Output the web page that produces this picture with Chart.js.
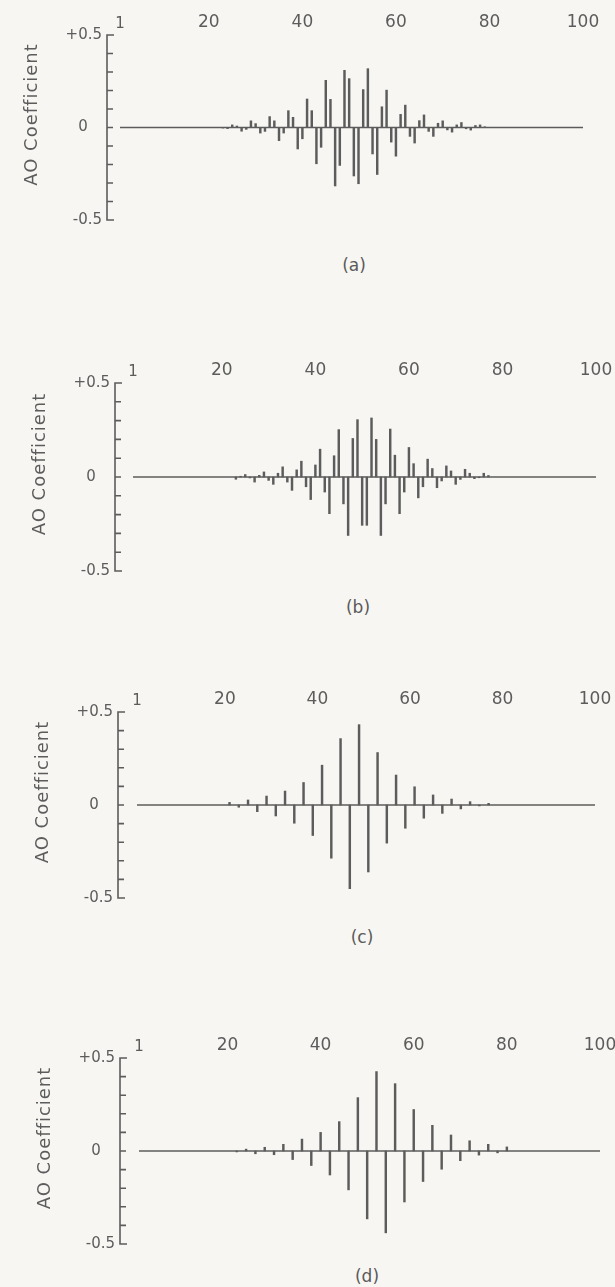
<!DOCTYPE html>
<html>
<head>
<meta charset="utf-8">
<title>AO Coefficient</title>
<script src="https://cdn.jsdelivr.net/npm/chart.js@4.4.1/dist/chart.umd.min.js"></script>
<style>
  html, body { margin: 0; padding: 0; background: #f7f6f3; }
  body { width: 615px; height: 1287px; position: relative; overflow: hidden;
         font-family: "DejaVu Sans", sans-serif; color: #5a5a5a; }
  .panel { position: absolute; left: 0; }
  .caption { position: absolute; font-size: 17px; transform: translate(-50%, -50%); white-space: nowrap; }
</style>
</head>
<body>
<div class="panel" id="wrapA"><canvas id="chartA"></canvas></div>
<div class="panel" id="wrapB"><canvas id="chartB"></canvas></div>
<div class="panel" id="wrapC"><canvas id="chartC"></canvas></div>
<div class="panel" id="wrapD"><canvas id="chartD"></canvas></div>
<div class="caption" id="capA">(a)</div>
<div class="caption" id="capB">(b)</div>
<div class="caption" id="capC">(c)</div>
<div class="caption" id="capD">(d)</div>

<script>
// axis ticks and labels
const xTickValues = [1, 20, 40, 60, 80, 100];
const yTickValues = [-0.5, 0, 0.5];
const yTickLabels = ['-0.5', '0\u2008\u2007', '+0.5'];
const yMinorTicks = [-0.4, -0.3, -0.2, -0.1, 0, 0.1, 0.2, 0.3, 0.4];
const axisLabel = 'AO Coefficient';

// (a)
const idxA = [23, 24, 25, 26, 27, 28, 29, 30, 31, 32, 33, 34, 35, 36, 37, 38, 39, 40, 41, 42,
              43, 44, 45, 46, 47, 48, 49, 50, 51, 52, 53, 54, 55, 56, 57, 58, 59, 60, 61, 62,
              63, 64, 65, 66, 67, 68, 69, 70, 71, 72, 73, 74, 75, 76, 77, 78, 79];
const coefA = [-0.003, -0.006, 0.014, 0.008, -0.020, -0.010, 0.036, 0.021, -0.030, -0.021,
               0.059, 0.036, -0.071, -0.030, 0.091, 0.055, -0.116, -0.061, 0.154, 0.091,
               -0.196, -0.107, 0.255, 0.152, -0.316, -0.205, 0.309, 0.264, -0.262, -0.304,
               0.205, 0.318, -0.143, -0.254, 0.112, 0.202, -0.079, -0.155, 0.071, 0.121,
               -0.048, -0.084, 0.037, 0.068, -0.021, -0.048, 0.023, 0.036, -0.013, -0.025,
               0.014, 0.027, -0.007, -0.014, 0.011, 0.014, 0.004];

// (b)
const idxB = [23, 24, 25, 26, 27, 28, 29, 30, 31, 32, 33, 34, 35, 36, 37, 38, 39, 40, 41, 42,
              43, 44, 45, 46, 47, 48, 49, 50, 51, 52, 53, 54, 55, 56, 57, 58, 59, 60, 61, 62,
              63, 64, 65, 66, 67, 68, 69, 70, 71, 72, 73, 74, 75, 76, 77];
const coefB = [-0.012, 0.004, 0.013, -0.005, -0.027, 0.009, 0.027, -0.018, -0.039, 0.020,
               0.054, -0.027, -0.071, 0.038, 0.084, -0.052, -0.120, 0.064, 0.148, -0.080,
               -0.195, 0.113, 0.252, -0.143, -0.311, 0.205, 0.305, -0.257, -0.257, 0.314,
               0.200, -0.311, -0.143, 0.255, 0.116, -0.195, -0.080, 0.157, 0.071, -0.111,
               -0.052, 0.095, 0.045, -0.057, -0.021, 0.059, 0.032, -0.039, -0.013, 0.041,
               0.020, -0.009, -0.004, 0.020, 0.008];

// (c)
const idxC = [21, 23, 25, 27, 29, 31, 33, 35, 37, 39, 41, 43, 45, 47, 49,
              51, 53, 55, 57, 59, 61, 63, 65, 67, 69, 71, 73, 75, 77];
const coefC = [0.014, -0.012, 0.027, -0.036, 0.048, -0.059, 0.075, -0.098, 0.121, -0.164,
               0.214, -0.286, 0.357, -0.450, 0.432, -0.360, 0.282, -0.205, 0.161, -0.125,
               0.098, -0.071, 0.054, -0.045, 0.032, -0.021, 0.018, -0.005, 0.009];

// (d)
const idxD = [22, 24, 26, 28, 30, 32, 34, 36, 38, 40, 42, 44, 46, 48, 50,
              52, 54, 56, 58, 60, 62, 64, 66, 68, 70, 72, 74, 76, 78, 80];
const coefD = [-0.005, 0.010, -0.015, 0.020, -0.020, 0.036, -0.046, 0.064, -0.078, 0.100,
               -0.129, 0.158, -0.209, 0.287, -0.365, 0.427, -0.440, 0.362, -0.274, 0.223,
               -0.164, 0.138, -0.098, 0.086, -0.052, 0.055, -0.022, 0.036, -0.010, 0.022];

const INK = '#5c5c5c';
const FONT = '"DejaVu Sans", sans-serif';
const PAGE_W = 615;

const panels = [
  { id: 'A', idx: idxA, coef: coefA, top: 0,    plotTop: 35,   plotBottom: 220,  axisX: 107, x1: 120, x100: 583, capX: 354, capY: 265 },
  { id: 'B', idx: idxB, coef: coefB, top: 340,  plotTop: 383,  plotBottom: 571,  axisX: 115, x1: 133, x100: 596, capX: 358, capY: 607 },
  { id: 'C', idx: idxC, coef: coefC, top: 670,  plotTop: 712,  plotBottom: 898,  axisX: 118, x1: 137, x100: 595, capX: 362, capY: 937 },
  { id: 'D', idx: idxD, coef: coefD, top: 1015, plotTop: 1058, plotBottom: 1244, axisX: 120, x1: 139, x100: 600, capX: 367, capY: 1276 }
];

// y axis with inward ticks, corner caps and the rotated label
const coefAxis = {
  id: 'coefAxis',
  afterDraw(chart) {
    const { ctx, chartArea } = chart;
    const y = chart.scales.y;
    const left = chartArea.left;
    const top = y.getPixelForValue(0.5);
    const bottom = y.getPixelForValue(-0.5);
    ctx.save();
    ctx.strokeStyle = INK;
    ctx.lineWidth = 1.6;
    ctx.beginPath();
    ctx.moveTo(left + 7, top);
    ctx.lineTo(left, top);
    ctx.lineTo(left, bottom);
    ctx.lineTo(left + 7, bottom);
    yMinorTicks.forEach((v) => {
      const py = y.getPixelForValue(v);
      ctx.moveTo(left, py);
      ctx.lineTo(left + 6, py);
    });
    ctx.stroke();

    ctx.translate(left - 75, y.getPixelForValue(0) - 13);
    ctx.rotate(-Math.PI / 2);
    ctx.font = '18px ' + FONT;
    ctx.letterSpacing = '1px';
    ctx.fillStyle = INK;
    ctx.textAlign = 'center';
    ctx.textBaseline = 'middle';
    ctx.fillText(axisLabel, 0, 0);
    ctx.restore();
  }
};

function buildPanel(p) {
  const wrap = document.getElementById('wrap' + p.id);
  const canvas = document.getElementById('chart' + p.id);
  const padBottom = 8;
  const height = p.plotBottom - p.top + padBottom;
  wrap.style.top = p.top + 'px';
  canvas.width = PAGE_W;
  canvas.height = height;
  canvas.style.width = PAGE_W + 'px';
  canvas.style.height = height + 'px';

  const cap = document.getElementById('cap' + p.id);
  cap.style.left = p.capX + 'px';
  cap.style.top = p.capY + 'px';

  // index 1 sits a little right of the y axis
  const unit = (p.x100 - p.x1) / 99;
  const xMin = 1 - (p.x1 - p.axisX) / unit;

  new Chart(canvas, {
    type: 'bar',
    data: {
      datasets: [
        {
          type: 'line',
          data: [{ x: 1, y: 0 }, { x: 100, y: 0 }],
          borderColor: INK,
          borderWidth: 1.5,
          pointRadius: 0,
          order: 2
        },
        {
          type: 'bar',
          data: p.idx.map((n, i) => ({ x: n, y: p.coef[i] })),
          backgroundColor: INK,
          borderWidth: 0,
          barThickness: 1.8,
          order: 1
        }
      ]
    },
    options: {
      responsive: false,
      animation: false,
      events: [],
      layout: { padding: { left: 0, right: PAGE_W - p.x100, top: 0, bottom: padBottom } },
      plugins: { legend: { display: false }, tooltip: { enabled: false } },
      scales: {
        x: {
          type: 'linear',
          position: 'top',
          min: xMin,
          max: 100,
          offset: false,
          grid: { display: false, drawTicks: false },
          border: { display: false },
          afterBuildTicks: (s) => { s.ticks = xTickValues.map((v) => ({ value: v })); },
          afterFit: (s) => { s.height = p.plotTop - p.top; s.paddingLeft = 0; s.paddingRight = 0; },
          ticks: {
            autoSkip: false,
            maxRotation: 0,
            padding: 2,
            color: INK,
            font: (c) => ({ family: FONT, size: c.tick && c.tick.value === 1 ? 15 : 17 }),
            callback: (v) => String(v)
          }
        },
        y: {
          min: -0.5,
          max: 0.5,
          grid: { display: false, drawTicks: false },
          border: { display: false },
          afterBuildTicks: (s) => { s.ticks = yTickValues.map((v) => ({ value: v })); },
          afterFit: (s) => { s.width = p.axisX; s.paddingTop = 0; s.paddingBottom = 0; },
          ticks: {
            padding: 5,
            color: INK,
            font: { family: FONT, size: 15 },
            callback: (v) => yTickLabels[yTickValues.indexOf(v)]
          }
        }
      }
    },
    plugins: [coefAxis]
  });
}

panels.forEach(buildPanel);
</script>
</body>
</html>
